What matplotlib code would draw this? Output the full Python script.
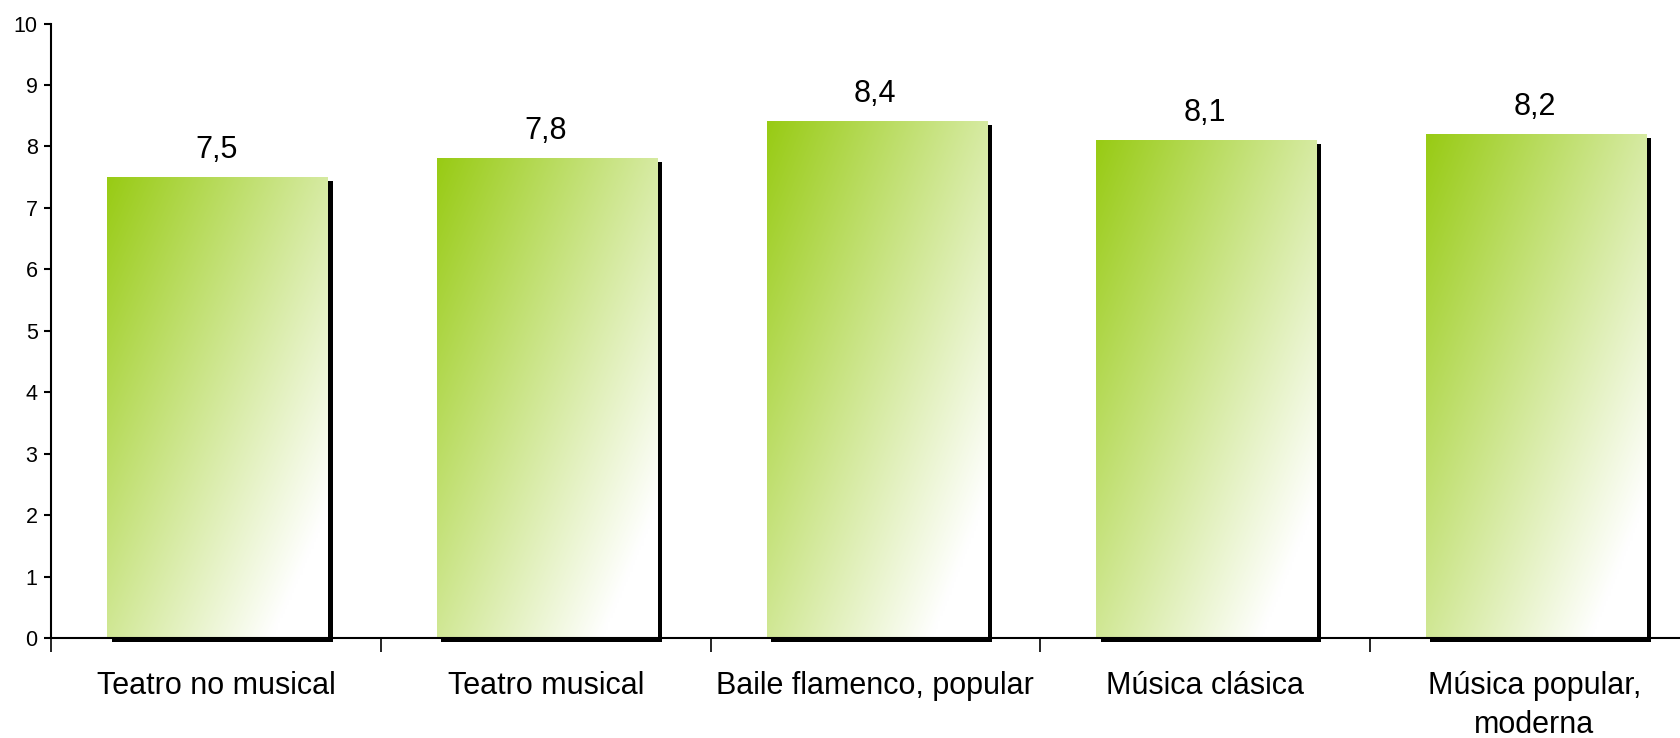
import numpy as np
import matplotlib.pyplot as plt
import matplotlib.transforms as mtransforms
from matplotlib.patches import Rectangle

# ======================
# DATA
# ======================
categories = ["Teatro no musical", "Teatro musical", "Baile flamenco, popular",
              "Música clásica", "Música popular,\nmoderna"]
values = [7.5, 7.8, 8.4, 8.1, 8.2]
y_ticks = list(range(0, 11))

# ======================
# STYLE
# ======================
plt.rcParams['font.family'] = ['Liberation Sans', 'DejaVu Sans']
BAR_WIDTH = 0.67
GREEN = np.array([152, 203, 20]) / 255.0
WHITE = np.array([1.0, 1.0, 1.0])

fig = plt.figure(figsize=(16.81, 7.38), dpi=100)
ax = fig.add_axes([0.0306, 0.1355, 0.9694, 0.8325])

x = np.arange(len(categories))

# gradient image (top-left green -> bottom-right white)
gh, gw = 200, 100
u = np.linspace(0, 1, gw)[None, :]
v = np.linspace(0, 1, gh)[:, None]      # 0 at top, 1 at bottom
t = np.clip(0.6 * u + 0.55 * v, 0, 1)
grad = GREEN[None, None, :] * (1 - t[..., None]) + WHITE[None, None, :] * t[..., None]

shadow_tr = ax.transData + mtransforms.ScaledTranslation(4.5 / 100, -3.5 / 100, fig.dpi_scale_trans)

for xi, val in zip(x, values):
    left = xi - BAR_WIDTH / 2 + 0.005
    shadow = Rectangle((left, 0), BAR_WIDTH, val, facecolor="black",
                       edgecolor="none", transform=shadow_tr, zorder=2, clip_on=False)
    ax.add_patch(shadow)
    ax.imshow(grad, extent=(left, left + BAR_WIDTH, 0, val), origin="upper",
              aspect="auto", zorder=3, interpolation="bilinear")
    ax.annotate(f"{val:.1f}".replace(".", ","), (xi, val), xytext=(0, 9),
                textcoords="offset points", ha="center", va="bottom", fontsize=22)

ax.set_yticks(y_ticks)
ax.set_yticklabels([str(v) for v in y_ticks], fontsize=15.5)
ax.tick_params(axis="y", direction="out", length=5, width=1.5, pad=5)

ax.set_xticks(x)
ax.set_xticklabels(categories, fontsize=22, linespacing=1.37)
ax.tick_params(axis="x", which="major", length=0, pad=24)
ax.set_xticks(np.arange(-0.5, 4.6, 1.0), minor=True)
ax.tick_params(axis="x", which="minor", direction="out", length=10, width=1.2)

ax.set_xlim(-0.5, 4.445)
ax.set_ylim(0, 10)
ax.set_aspect("auto")

for side in ["top", "right"]:
    ax.spines[side].set_visible(False)
ax.spines["left"].set_linewidth(1.5)
ax.spines["bottom"].set_linewidth(1.5)
ax.spines["bottom"].set_zorder(4)

fig.savefig("out.png", dpi=100)
